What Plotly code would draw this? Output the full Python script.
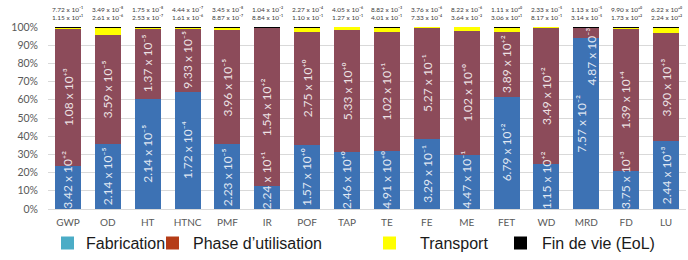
import plotly.graph_objects as go

categories = ['GWP', 'OD', 'HT', 'HTNC', 'PMF', 'IR', 'POF', 'TAP', 'TE', 'FE',
              'ME', 'FET', 'WD', 'MRD', 'FD', 'LU']
fabrication = [3.42e2, 2.14e-5, 2.14e-5, 1.72e-4, 2.23e-5, 2.24e1, 1.57e0, 2.46e0,
               4.91e0, 3.29e-1, 4.47e-1, 6.79e2, 1.15e2, 7.57e-2, 3.75e3, 2.44e3]
utilisation = [1.08e3, 3.59e-5, 1.37e-5, 9.33e-5, 3.96e-5, 1.54e2, 2.75e0, 5.33e0,
               1.02e1, 5.27e-1, 1.02e0, 3.89e2, 3.49e2, 4.87e-3, 1.39e4, 3.90e3]
transport = [1.15e1, 2.61e-6, 2.53e-7, 1.61e-6, 8.87e-7, 8.84e-1, 1.10e-1, 1.27e-1,
             4.01e-1, 7.33e-4, 3.64e-2, 3.06e1, 8.17e-1, 3.14e-5, 1.73e2, 2.24e2]
fin_de_vie = [7.72e-1, 3.49e-8, 1.75e-8, 4.44e-7, 3.45e-8, 1.04e-2, 2.27e-4, 4.05e-6,
              8.82e-3, 3.76e-6, 8.22e-6, 1.11e0, 2.33e-5, 1.13e-5, 9.90e0, 6.22e0]
legend_names = ['Fabrication', 'Phase d\u2019utilisation', 'Transport', 'Fin de vie (EoL)']

SUP = str.maketrans('0123456789+-', '\u2070\u00b9\u00b2\u00b3\u2074\u2075\u2076\u2077\u2078\u2079\u207a\u207b')


def fmt(v):
    m, e = f'{v:.2e}'.split('e')
    sign = e[0]
    ex = str(int(e[1:]))
    return f'{m} x 10' + (sign + ex).translate(SUP)


BLUE = '#3d72b4'
MAROON = '#8c4b5a'
YELLOW = '#ffff00'
BLACK = '#000000'
LEG_COLORS = ['#4bacc6', '#b53c17', '#ffff00', '#000000']

fig = go.Figure()
for vals, col in [(fabrication, BLUE), (utilisation, MAROON), (transport, YELLOW), (fin_de_vie, BLACK)]:
    fig.add_trace(go.Bar(x=categories, y=vals, marker=dict(color=col, line=dict(width=0)),
                         showlegend=False, hoverinfo='skip'))

annotations = []
label_font = dict(family='Lato, sans-serif', size=12, color='rgba(255,255,255,0.85)')
for i, c in enumerate(categories):
    tot = fabrication[i] + utilisation[i] + transport[i] + fin_de_vie[i]
    fp = fabrication[i] / tot * 100
    up = utilisation[i] / tot * 100
    if up >= 20:
        yb = max(fp / 2, 16)
        yu = fp + up / 2
        xb = xu = 0
    else:
        yb = fp / 2
        yu = fp - 10
        xb, xu = -5, 5
    annotations.append(dict(x=c, y=yb, xref='x', yref='y', text=fmt(fabrication[i]),
                            textangle=-90, showarrow=False, font=label_font, xshift=xb))
    annotations.append(dict(x=c, y=yu, xref='x', yref='y', text=fmt(utilisation[i]),
                            textangle=-90, showarrow=False, font=label_font, xshift=xu))
    annotations.append(dict(x=c, y=1, xref='x', yref='paper', yanchor='bottom',
                            text=fmt(fin_de_vie[i]) + '<br>' + fmt(transport[i]),
                            showarrow=False, yshift=4,
                            font=dict(family='Lato, sans-serif', size=6.5, color='#404040')))

# manual legend
W, H = 688, 260
L, R, T, B = 48, 2, 27, 51
pw, ph = W - L - R, H - T - B


def px(x):
    return (x - L) / pw


def py(y):
    return (H - B - y) / ph


shapes = []
sq_x = [61, 166, 383, 514]
tx_x = [84, 191, 418, 540]
ly = 243
for k in range(4):
    shapes.append(dict(type='rect', xref='paper', yref='paper',
                       x0=px(sq_x[k]), x1=px(sq_x[k] + 13), y0=py(ly + 6.5), y1=py(ly - 6.5),
                       fillcolor=LEG_COLORS[k], line=dict(width=0)))
    annotations.append(dict(x=px(tx_x[k]), y=py(ly), xref='paper', yref='paper',
                            xanchor='left', yanchor='middle', text=legend_names[k], showarrow=False,
                            font=dict(family='Liberation Sans, Arial, sans-serif', size=16, color='#1a1a1a')))

fig.update_layout(
    width=W, height=H, barmode='stack', barnorm='percent', bargap=0.35,
    margin=dict(l=L, r=R, t=T, b=B, pad=0),
    paper_bgcolor='white', plot_bgcolor='white',
    annotations=annotations, shapes=shapes,
    showlegend=False,
    font=dict(family='Lato, sans-serif'),
)
fig.update_yaxes(range=[0, 100], dtick=10, ticksuffix='%', gridcolor='#d9d9d9', gridwidth=1,
                 tickfont=dict(size=10.5, color='#595959', family='Lato, sans-serif'),
                 ticklabelstandoff=9, zeroline=False, showline=False)
fig.update_xaxes(tickfont=dict(size=10, color='#595959', family='Lato, sans-serif'),
                 showline=True, linecolor='#d9d9d9', ticklabelstandoff=4)

fig.write_html('out.html', config={'displayModeBar': False},
               post_script="document.body.style.margin='0px';")
